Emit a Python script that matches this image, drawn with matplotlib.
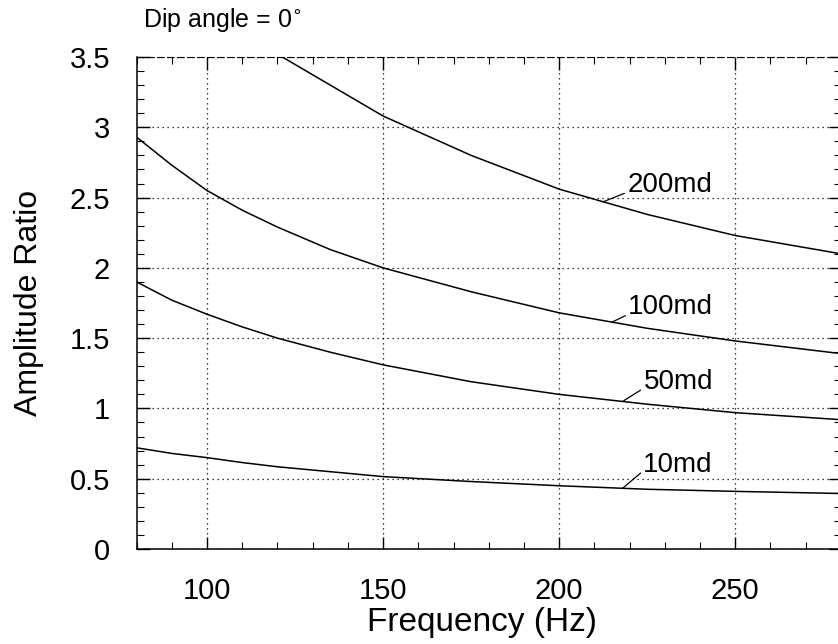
import numpy as np
import matplotlib
matplotlib.use('Agg')
import matplotlib.pyplot as plt
from matplotlib.ticker import MultipleLocator

plt.rcParams['font.family'] = ['Liberation Sans', 'DejaVu Sans']

# frequency samples (Hz) and amplitude ratios
freq = [80, 90, 100, 110, 120, 135, 150, 175, 200, 225, 250, 280]
amp_10md = [0.72, 0.68, 0.65, 0.615, 0.585, 0.55, 0.515, 0.48, 0.45, 0.425, 0.41, 0.395]
amp_50md = [1.90, 1.77, 1.67, 1.58, 1.50, 1.40, 1.31, 1.19, 1.10, 1.03, 0.97, 0.92]
amp_100md = [2.93, 2.73, 2.55, 2.41, 2.29, 2.13, 2.00, 1.83, 1.68, 1.57, 1.48, 1.39]
# 200md leaves the top of the frame below ~120 Hz
freq_200 = [120, 135, 150, 175, 200, 225, 250, 280]
amp_200md = [3.52, 3.30, 3.08, 2.80, 2.56, 2.38, 2.23, 2.10]

labels = ['200md', '100md', '50md', '10md']
x_ticks = [100, 150, 200, 250]
y_ticks = [0, 0.5, 1, 1.5, 2, 2.5, 3, 3.5]
y_tick_labels = ['0', '0.5', '1', '1.5', '2', '2.5', '3', '3.5']

fig = plt.figure(figsize=(8.38, 6.44), dpi=100)
ax = fig.add_axes([0.163, 0.1475, 0.8405, 0.764])

curves = [(freq_200, amp_200md), (freq, amp_100md), (freq, amp_50md), (freq, amp_10md)]
for fx, fy in curves:
    ax.plot(fx, fy, color='black', lw=1.1, solid_capstyle='butt')

# labels with short leader lines: (freq on curve, text x, text y)
label_pos = [(212.5, 219.3, 2.59), (215.0, 219.6, 1.72),
             (218.0, 223.9, 1.19), (218.0, 223.9, 0.60)]
for (fx, fy), lab, (xf, tx, ty) in zip(curves, labels, label_pos):
    yc = np.interp(xf, fx, fy)
    ax.annotate('', xy=(xf, yc), xytext=(tx - 0.8, ty - 0.06),
                arrowprops=dict(arrowstyle='-', color='black', lw=0.9,
                                shrinkA=0, shrinkB=0))
    ax.text(tx, ty, lab, fontsize=20, ha='left', va='center')

ax.set_xlim(80, 280)
ax.set_ylim(0, 3.5)
ax.set_xticks(x_ticks)
ax.set_xticklabels([str(v) for v in x_ticks])
ax.set_yticks(y_ticks)
ax.set_yticklabels(y_tick_labels)
ax.xaxis.set_minor_locator(MultipleLocator(10))
ax.yaxis.set_minor_locator(MultipleLocator(0.1))
ax.tick_params(which='both', direction='in', top=True, right=True)
ax.tick_params(which='major', length=9, width=1, labelsize=21)
ax.tick_params(axis='y', which='major', pad=19)
ax.tick_params(axis='x', which='major', pad=20.5)
ax.tick_params(which='minor', length=5, width=0.8)

ax.grid(True, which='major', color='black', linestyle=(0, (1, 3)), lw=0.9)
for side in ['left', 'bottom']:
    ax.spines[side].set_linewidth(1.1)
ax.spines['top'].set_linestyle((0, (6, 3)))
ax.spines['top'].set_linewidth(0.8)
ax.spines['right'].set_linewidth(0.8)

ax.set_xlabel('Frequency (Hz)', fontsize=24)
ax.xaxis.set_label_coords(0.49, -0.118)
ax.set_ylabel('Amplitude Ratio', fontsize=23)
ax.yaxis.set_label_coords(-0.132, 0.5)

fig.text(0.171, 0.969, 'Dip angle = 0$^{\\circ}$', fontsize=18, ha='left', va='center')

fig.savefig('out.png', dpi=100)
